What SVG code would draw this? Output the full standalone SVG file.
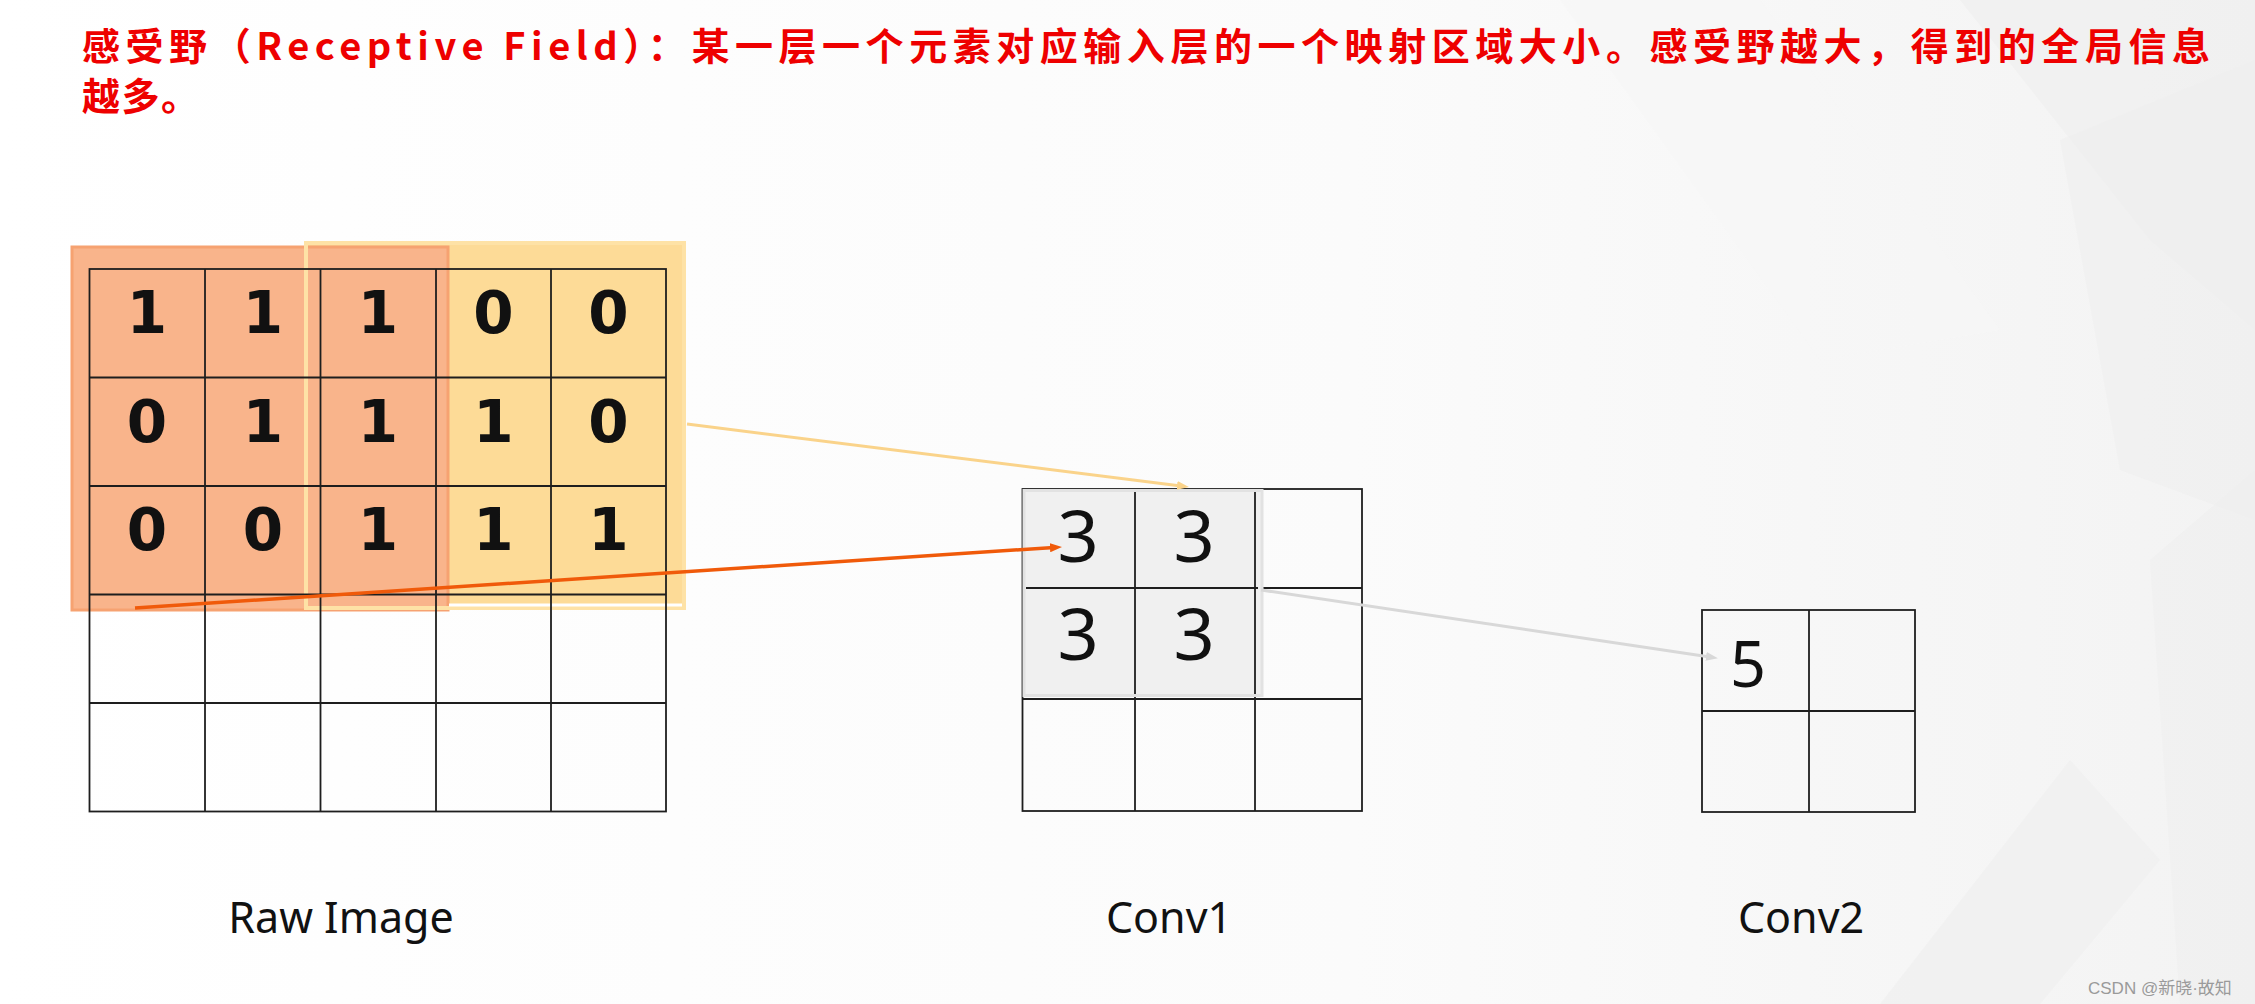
<svg xmlns="http://www.w3.org/2000/svg" width="2255" height="1004" viewBox="0 0 2255 1004">
  <defs>
    <linearGradient id="bg" x1="0" y1="0" x2="1" y2="0">
      <stop offset="0" stop-color="#FFFFFF"/>
      <stop offset="0.6" stop-color="#FBFBFB"/>
      <stop offset="1" stop-color="#F3F3F3"/>
    </linearGradient>
    <marker id="arrY" markerUnits="userSpaceOnUse" markerWidth="12" markerHeight="9" refX="4" refY="4.5" orient="auto">
      <path d="M0,0 L12,4.5 L0,9 z" fill="#FAD38A"/>
    </marker>
    <marker id="arrO" markerUnits="userSpaceOnUse" markerWidth="12" markerHeight="9" refX="4" refY="4.5" orient="auto">
      <path d="M0,0 L12,4.5 L0,9 z" fill="#F05A0A"/>
    </marker>
    <marker id="arrG" markerUnits="userSpaceOnUse" markerWidth="12" markerHeight="9" refX="4" refY="4.5" orient="auto">
      <path d="M0,0 L12,4.5 L0,9 z" fill="#D8D8D8"/>
    </marker>
    <style>
      .grid { stroke: #1E1E1E; stroke-width: 1.8; fill: none; }
      .bold-digit { font-family: "DejaVu Sans", "Noto Sans", sans-serif; font-weight: bold; font-size: 58px; fill: #111111; text-anchor: middle; }
      .digit { font-family: "Noto Sans", "Open Sans", sans-serif; font-size: 72px; fill: #111111; text-anchor: middle; }
      .label { font-family: "Noto Sans", "Open Sans", sans-serif; font-size: 43px; fill: #111111; text-anchor: middle; }
      .title { font-family: "Noto Sans CJK SC", "Noto Sans", sans-serif; font-weight: bold; font-size: 38px; fill: #EE0000; }
      .mark { font-family: "Liberation Sans", "Noto Sans CJK SC", sans-serif; font-size: 17px; fill: #9A9A9A; }
      .bgshape { fill: #EFEFEF; opacity: 0.6; }
    </style>
  </defs>

  <!-- background -->
  <rect x="0" y="0" width="2255" height="1004" fill="url(#bg)"/>
  <polygon class="bgshape" points="1960,0 2255,0 2255,330 2150,240"/>
  <polygon class="bgshape" points="2060,140 2255,60 2255,520 2120,470"/>
  <polygon class="bgshape" points="2150,560 2255,470 2255,1004 2180,1004"/>
  <polygon class="bgshape" points="1880,1004 2070,760 2160,860 2040,1004"/>
  <polygon points="1560,0 1760,0 2000,330 1820,360" fill="#F6F6F6" opacity="0.7"/>

  <!-- title -->
  <g id="title">
    <text class="title" x="82" y="60" textLength="2128" lengthAdjust="spacing">感受野（Receptive Field）：某一层一个元素对应输入层的一个映射区域大小。感受野越大，得到的全局信息</text>
    <text class="title" x="82" y="110" textLength="117" lengthAdjust="spacing">越多。</text>
  </g>

  <!-- Raw Image node -->
  <g id="raw-image">
    <rect x="304" y="241" width="382" height="369" fill="#FDDB97"/>
    <rect x="72" y="247" width="376" height="363" fill="#F9B48B" stroke="#F6A271" stroke-width="3"/>
    <rect x="306" y="243" width="378" height="365" fill="none" stroke="#FEE2A6" stroke-width="4"/>
    <line x1="449" y1="605" x2="682" y2="605" stroke="#FFFFFF" stroke-width="3"/>
    <g class="grid">
      <rect x="89.5" y="269" width="576.5" height="542.5"/>
      <line x1="205" y1="269" x2="205" y2="811.5"/>
      <line x1="320.5" y1="269" x2="320.5" y2="811.5"/>
      <line x1="436" y1="269" x2="436" y2="811.5"/>
      <line x1="551" y1="269" x2="551" y2="811.5"/>
      <line x1="89.5" y1="377.5" x2="666" y2="377.5"/>
      <line x1="89.5" y1="486" x2="666" y2="486"/>
      <line x1="89.5" y1="594.5" x2="666" y2="594.5"/>
      <line x1="89.5" y1="703" x2="666" y2="703"/>
    </g>
    <text class="bold-digit" x="147" y="333">1</text>
    <text class="bold-digit" x="263" y="333">1</text>
    <text class="bold-digit" x="378" y="333">1</text>
    <text class="bold-digit" x="493.5" y="333">0</text>
    <text class="bold-digit" x="608.5" y="333">0</text>
    <text class="bold-digit" x="147" y="442">0</text>
    <text class="bold-digit" x="263" y="442">1</text>
    <text class="bold-digit" x="378" y="442">1</text>
    <text class="bold-digit" x="493.5" y="442">1</text>
    <text class="bold-digit" x="608.5" y="442">0</text>
    <text class="bold-digit" x="147" y="550">0</text>
    <text class="bold-digit" x="263" y="550">0</text>
    <text class="bold-digit" x="378" y="550">1</text>
    <text class="bold-digit" x="493.5" y="550">1</text>
    <text class="bold-digit" x="608.5" y="550">1</text>
    <text class="label" x="341" y="933">Raw Image</text>
  </g>

  <!-- Conv1 node -->
  <g id="conv1">
    <g class="grid">
      <rect x="1022.5" y="489" width="339.5" height="322"/>
      <line x1="1135" y1="489" x2="1135" y2="811"/>
      <line x1="1255" y1="489" x2="1255" y2="811"/>
      <line x1="1022.5" y1="588" x2="1362" y2="588"/>
      <line x1="1022.5" y1="699" x2="1362" y2="699"/>
    </g>
    <rect x="1024" y="490.5" width="238" height="205" fill="#F0F0F0" stroke="#E2E2E2" stroke-width="3"/>
    <g class="grid">
      <line x1="1135" y1="492" x2="1135" y2="694"/>
      <line x1="1255" y1="492" x2="1255" y2="694"/>
      <line x1="1026" y1="588" x2="1258" y2="588"/>
    </g>
    <text class="digit" x="1078" y="562">3</text>
    <text class="digit" x="1194" y="562">3</text>
    <text class="digit" x="1078" y="660">3</text>
    <text class="digit" x="1194" y="660">3</text>
    <text class="label" x="1169" y="933">Conv1</text>
  </g>

  <!-- Conv2 node -->
  <g id="conv2">
    <g class="grid">
      <rect x="1702" y="610" width="213" height="202"/>
      <line x1="1809" y1="610" x2="1809" y2="812"/>
      <line x1="1702" y1="711" x2="1915" y2="711"/>
    </g>
    <text class="digit" x="1748" y="687" style="font-size:63px">5</text>
    <text class="label" x="1801" y="933">Conv2</text>
  </g>

  <!-- connectors -->
  <g id="connectors" fill="none">
    <line x1="687" y1="424" x2="1181" y2="486" stroke="#FAD38A" stroke-width="3" marker-end="url(#arrY)"/>
    <line x1="135" y1="608" x2="1054" y2="547.5" stroke="#F05A0A" stroke-width="3.5" marker-end="url(#arrO)"/>
    <line x1="1261" y1="590" x2="1710" y2="657" stroke="#D8D8D8" stroke-width="3" marker-end="url(#arrG)"/>
  </g>

  <text class="mark" x="2088" y="994">CSDN @新晓·故知</text>
</svg>
